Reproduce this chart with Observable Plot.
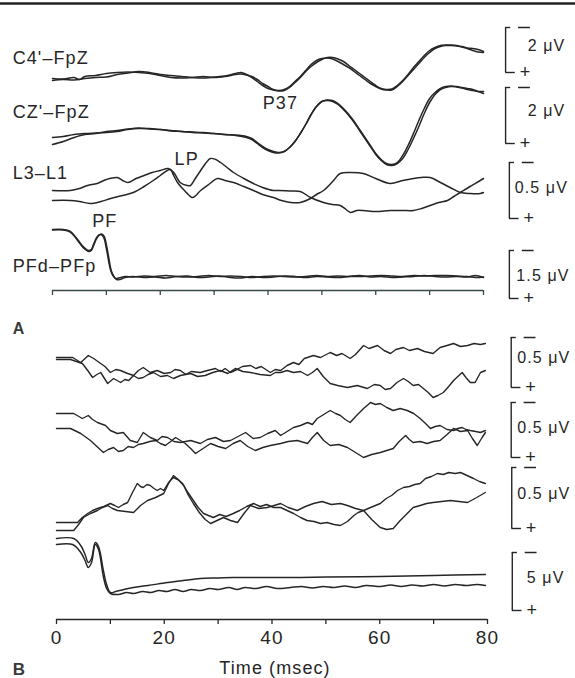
<!DOCTYPE html>
<html><head><meta charset="utf-8">
<script src="https://cdn.jsdelivr.net/npm/d3@7"></script>
<script src="https://cdn.jsdelivr.net/npm/@observablehq/plot@0.6"></script>
<style>
html,body{margin:0;padding:0;background:#fff;}
#chart svg text{letter-spacing:1.1px;}
</style></head><body><div id="chart"></div>
<script>
// ---------- DATA (time in msec, level in vertical display units; + polarity downward) ----------
const timeTicks = [0,10,20,30,40,50,60,70,80];
const timeLabels = [0,20,40,60,80];
const channelNames = ["C4'–FpZ","CZ'–FpZ","L3–L1","PFd–PFp"];
const peakNames = ["P37","LP","PF"];
const barLabels = ["2 μV","2 μV","0.5 μV","1.5 μV","0.5 μV","0.5 μV","0.5 μV","5 μV"];
const panelNames = ["A","B"];

// Panel A
const c4a = [[0,80],[2,79],[4,79.5],[6,78],[8,77],[10,76.5],[12,74],[14,72.5],[16,71],[18,72],[20,74],[22,75],[24,76],[26,77],[28,77.5],[30,76.5],[32,75.5],[34,73],[35,72],[36,74],[37,77],[38,81],[39,85],[40,88],[41,89.5],[42,90],[43,89],[44,86],[45,81],[46,76],[47,70],[48,64],[49,60],[50,58],[51,57.5],[52,58.5],[53,61],[54,64],[55,67],[56,71],[57,75],[58,79],[59,83],[60,86],[61,88.5],[62,89.5],[63,89.5],[64,86],[65,81],[66,75],[67,69],[68,63],[69,57],[70,52],[71,48],[72,46],[73,45],[74,45],[75,45.5],[76,46],[77,47.5],[78,48],[79,49],[80,51]];
const c4b = [[0,78],[2,78.5],[4,77],[5,79],[6,76],[8,75],[10,73],[12,72],[14,71.5],[16,72],[18,73],[20,75],[22,77],[24,77.5],[26,77],[28,76],[30,77],[32,76],[34,74],[35,73.5],[36,74.5],[37,76],[38,79],[39,83],[40,86],[41,89],[42,90.5],[43,90],[44,87],[45,82],[46,77],[47,71],[48,66],[49,62],[50,59],[51,57],[52,57],[53,58.5],[54,61],[55,65],[56,69],[57,73],[58,77],[59,81],[60,85],[61,88],[62,89],[63,88.5],[64,85],[65,80],[66,74],[67,67],[68,61],[69,55],[70,50],[71,47],[72,45],[73,44.5],[74,44.5],[75,45],[76,46.5],[77,48],[78,50],[79,51.5],[80,52]];
const cza = [[0,137],[2,136],[4,134],[6,133],[8,132.5],[10,132],[12,131],[14,129],[16,128],[18,128],[20,129],[22,130],[24,131],[26,131.5],[28,132],[30,133],[32,134],[34,134.5],[36,136],[37,138],[38,142],[39,146],[40,149],[41,151],[42,152],[43,151],[44,147],[45,141],[46,133],[47,124],[48,114],[49,106],[50,101],[51,99.5],[52,100],[53,103],[54,108],[55,114],[56,121],[57,129],[58,137],[59,145],[60,153],[61,159],[62,163],[63,164],[64,162],[65,155],[66,145],[67,133],[68,120],[69,108],[70,98],[71,92],[72,88],[73,86],[74,85.5],[75,86],[76,87],[77,88],[78,89],[79,91],[80,93]];
const czb = [[0,144],[2,141],[4,137],[6,134],[8,133],[10,131],[12,130],[14,128.5],[16,127.5],[18,128.5],[20,129],[22,130.5],[24,131],[26,132],[28,132.5],[30,133],[32,134],[34,135],[36,137],[37,139],[38,143],[39,147],[40,150],[41,152],[42,152.5],[43,151],[44,147],[45,141],[46,133],[47,124],[48,114],[49,106],[50,101],[51,100],[52,101],[53,104],[54,109],[55,115],[56,122],[57,130],[58,138],[59,146],[60,154],[61,160],[62,164],[63,165],[64,163],[65,158],[66,149],[67,138],[68,126],[69,113],[70,102],[71,94],[72,89],[73,87],[74,86],[75,86.5],[76,87.5],[77,89],[78,90],[79,91],[80,91]];
const l3a = [[0,190],[3.3,190],[5,188],[6.5,185],[8.3,183],[10,179],[12,177],[13,180],[14,182],[15.5,178],[17,175],[18.5,172],[20,170],[21.5,168],[22.5,172],[23.7,182],[25,185],[25.6,185],[26.5,178],[27.5,170],[28.4,163],[29.3,158],[30.3,159],[31.2,162],[32.4,167],[33.6,172],[35.5,178],[37.3,183],[39,187],[41,190],[42,190],[44,190.5],[46,191],[47.9,197],[50.3,202],[52,204],[53.4,205],[54.5,209],[55.3,212],[56.5,210],[57.7,210],[60,211],[62.7,210],[65,210],[67,210],[68.5,208],[70.1,205],[71.7,202],[73.3,200],[74.5,196],[75.7,192],[77.5,186],[79.4,180],[80,178]];
const l3b = [[0,200],[3.3,200],[5,201],[7,203],[9,201],[10.8,198],[13,195],[15,192],[17,186],[18.7,180],[20,175],[21.3,170],[21.9,169],[22.5,175],[23.2,182],[24.5,190],[26,197],[27.5,190],[29,184],[30.6,178],[32,180],[33.6,182],[35.5,186],[37.3,190],[39,194],[41,197],[42.5,200],[44.2,202],[46,202],[47.9,198],[49,194],[50.3,190],[52,181],[53.4,173],[55.5,172],[57.7,173],[60,178],[62.7,183],[65,180],[67,178],[68.5,177],[70.1,177],[72,182],[73.8,187],[75.7,192],[77.5,193],[79.4,193],[80,192]];
const pfa = [[0,229],[2,229],[3.3,231],[4.2,236],[4.8,240],[5.5,245],[6.1,248],[6.7,250],[7.2,249],[7.6,244],[8.1,238],[8.6,234.5],[9,234],[9.5,237],[10,248],[10.4,260],[10.8,270],[11.2,275],[11.7,278],[12.3,277.5],[13.5,276],[15,276.5],[17,275.5],[19,276],[21,275],[23,276],[25,276.5],[27,276],[29,275],[31,276],[33,275.5],[35,276],[37,277],[39,276],[41,275.5],[43,276],[45,276.5],[47,276],[49,275],[51,276],[53,275.5],[55,276],[57,276],[59,275.5],[61,275],[63,275.5],[65,276],[67,275],[69,275.5],[71,275],[73,275],[75,275.5],[77,276],[78.5,277],[80,276.5]];
const pfb = [[0,229.5],[2,229.5],[3.3,231.5],[4.2,236.5],[4.8,241],[5.5,246],[6.1,249],[6.7,251],[7.2,250],[7.6,245.5],[8.1,239],[8.6,235],[9.1,233.5],[9.6,236],[10.1,247],[10.5,259],[10.9,270],[11.4,276],[11.9,279],[12.5,279],[13.5,277],[15,276],[17,277],[19,276.5],[21,277.5],[23,276],[25,275.5],[27,277],[29,276.5],[31,275.5],[33,277],[35,277.5],[37,276],[39,277],[41,276.5],[43,275.5],[45,276],[47,277],[49,276],[51,276.5],[53,277],[55,276],[57,275],[59,276.5],[61,276],[63,277],[65,276.5],[67,276],[69,275],[71,276],[73,276.5],[75,276],[77,276.5],[78.5,275],[80,277]];

// Panel B
const b1a = [[0,357],[3,357],[4.5,362],[5.9,355],[6.9,358],[8.2,363],[9,366],[10,372],[11,369],[11.9,370],[13.2,373],[14.3,375],[15.2,370],[16.1,367],[17.4,372],[18.7,370],[20,373],[21.2,372],[22,369],[23,370],[24,374],[25,371],[26.7,372],[28,370],[29.5,368],[30.5,371],[31.3,368],[32.3,372],[33.5,369],[34.5,366],[36,365],[37,368],[38,366],[39.7,372],[40.6,369],[41.6,370],[42.8,365],[44,362],[45,364],[46,358],[47.7,355],[49,357],[50.8,352],[52,355],[53,353],[54.5,358],[55.5,354],[57,345],[58,348],[59.6,345],[60.8,350],[62,353],[63,349],[64.4,347],[65.5,350],[67,348],[68.3,351],[69.9,353],[71.2,347],[72.5,345],[73.7,343],[75,346],[76.3,345],[77.5,343],[78.7,344],[79.6,343]];
const b1b = [[0,359],[2.6,359],[4.8,363],[5.8,370],[6.7,377],[7.5,374],[8.2,372],[9.5,383],[10.6,378],[11.9,382],[12.7,379],[13.4,380],[14.3,375],[15.2,378],[16.1,377],[17,374],[18,372],[19.3,376],[20.6,375],[21.7,378],[23,375],[24.9,373],[26.2,376],[27.6,375],[29,372],[30.4,370],[31.8,373],[33.2,368],[34.6,371],[36,372],[37.8,374],[39.7,375],[40.6,372],[41.6,372],[42.8,370],[44,372],[45.3,371],[46.6,375],[47.5,372],[48.4,368],[49.5,376],[50.8,383],[52.2,385],[54,387],[55.8,385],[57.7,388],[59,384],[60.1,385],[61,389],[62,388],[63.2,382],[64.4,378],[65.3,381],[66.2,385],[67.2,384],[68.1,388],[69,392],[69.9,397],[70.8,395],[71.8,392],[72.8,386],[73.7,380],[74.5,376],[75.3,372],[76,377],[76.8,382],[77.7,382],[78.7,372],[79.6,370]];
const b2a = [[0,413],[3.2,413],[4.8,418],[5.9,415],[6.7,419],[7.6,422],[9.1,425],[10,430],[11.3,433],[12.4,432],[13.7,440],[15,442],[16.1,432],[17.4,437],[18.7,440],[19.6,436],[20.6,437],[21.8,441],[23,442],[24.9,440],[26.7,443],[28,439],[29.5,437],[31,441],[32.3,440],[33.7,436],[35.1,432],[36.5,438],[37.8,437],[39.2,433],[40.6,430],[41.6,435],[42.8,431],[44,427],[45.3,425],[46.6,422],[47.5,424],[48.4,418],[49.6,414],[50.8,410],[51.8,413],[52.7,415],[53.6,419],[54.5,422],[55.7,415],[57,408],[58.3,402],[59.2,404],[60.1,403],[61.3,407],[62.5,410],[63.8,408],[65.1,410],[66.3,413],[67.5,418],[68.5,423],[69.4,428],[70.3,426],[71.2,425],[72.5,429],[73.7,430],[74.5,428],[75.3,427],[76,429],[76.8,430],[77.8,431],[78.7,432],[79.6,430]];
const b2b = [[0,428],[2.6,428],[4.5,433],[6.3,440],[7.5,446],[8.7,452],[9.6,449],[10.6,447],[11.5,451],[12.4,450],[13.3,446],[14.3,447],[15.2,444],[16.1,443],[17.3,441],[18.4,440],[19.3,443],[20.2,445],[21.2,441],[22.1,437],[23,440],[23.9,443],[24.9,448],[25.8,453],[27.2,448],[28.6,443],[30,446],[31.4,448],[32.8,443],[34.1,440],[35.5,446],[36.9,450],[38.3,447],[39.7,445],[41.6,443],[43,441],[44.7,440],[46.6,443],[47.5,437],[48.4,432],[49.6,440],[50.8,445],[52.4,444],[54,447],[55.5,452],[57,457],[58.5,454],[60.1,452],[61.3,450],[62.5,448],[63.6,441],[64.8,435],[65.5,439],[66.2,442],[67.5,441],[68.8,443],[70,441],[71.2,440],[72.5,434],[73.7,428],[75,431],[76.3,430],[77.2,438],[78.1,445],[79,437],[79.6,432]];
const b3a = [[0,522],[3.9,522],[4.8,517],[5.8,513],[6.7,510],[7.6,508],[8.8,506],[10,503],[10.8,505],[11.5,507],[12.4,504],[13.2,502],[14.1,492],[15,483],[15.6,486],[16.1,487],[16.8,484],[17.4,485],[18.1,488],[18.7,490],[19.3,488],[19.9,490],[20.8,482],[21.7,477],[22.5,479],[23.4,483],[24.4,492],[25.4,500],[26.3,507],[27.3,513],[28.2,515],[29.1,517],[30.3,514],[31.5,516],[32.8,513],[34,510],[35.3,506],[36.6,503],[37.8,506],[39,504],[40.3,507],[41.6,507],[42.8,510],[44,513],[45.3,517],[46.5,520],[47.8,521],[49,523],[50.2,522],[51.5,524],[52.7,525],[54,521],[55.2,515],[56,512],[57,510],[58.3,507],[59.2,505],[60.1,503],[61.2,498],[62.2,495],[63.3,490],[64.4,487],[65.5,486],[66.5,484],[67.5,483],[68.5,478],[69.6,476],[70.7,473],[71.8,474],[72.8,472],[74,473],[75,472],[76.2,475],[77.4,478],[78.5,481],[79.6,483]];
const b3b = [[0,530],[3.2,530],[4.1,524],[5,517],[6.3,513],[7.6,510],[8.5,507],[9.5,505],[10.4,508],[11.3,510],[12.8,511],[14.3,512],[15.6,505],[16.9,500],[18.4,497],[19.9,493],[20.8,483],[21.7,475],[22.6,479],[23.6,485],[24.5,495],[25.4,503],[26.5,512],[27.6,519],[28.6,523],[29.8,520],[31,517],[32.3,520],[33.6,522],[34.8,513],[36,505],[37.5,508],[39.1,507],[40.4,505],[41.6,503],[43,507],[44.7,510],[46.2,506],[47.7,503],[49.3,501],[51,504],[52.7,503],[54,505],[55.5,508],[57,510],[58.5,519],[60.1,527],[61.3,529],[62.5,528],[63.8,520],[65.1,513],[66.2,507],[67.5,505],[68.7,503],[69.9,502],[71.5,501],[73.1,500],[74.7,501],[76.3,502],[78,497],[79.6,492]];
const b4a = [[0,538],[3.2,538],[4.5,545],[5.3,554],[5.9,562],[6.5,558],[7.2,542],[7.8,546],[8.7,570],[9.3,584],[10,592],[11,591],[12.5,589],[14.3,587],[17,585],[20.6,582],[23.5,580],[26.7,578],[30,577.5],[32.8,577],[37,577],[43.4,577],[50,576.5],[60.1,576],[70,575],[79.6,574]];
const b4b = [[0,544],[3,544],[4.5,552],[5.3,560],[5.9,567],[6.5,562],[7.2,544],[7.8,549],[8.7,576],[9.3,588],[10,593],[11.5,594],[13,592],[14.3,593],[16,591],[17.5,592],[19,590],[20.5,591],[22,589],[23.5,591],[25,589],[26.7,590],[28.5,588],[30,589],[32,587],[33.5,589],[35,587],[37,588],[39,586],[41,588],[43.4,587],[45.5,586],[47.5,587.5],[49.5,586],[51.5,587],[53.5,585.5],[55.5,587],[57.5,585],[60.1,586],[62,584.5],[64,586],[66,584.5],[68,585.5],[70,584],[72,585.5],[74,584],[76,585],[78,584],[79.6,585]];

// ---------- LAYOUT ----------
const W = 575, H = 678;
const dxB = 4; // panel B drawn slightly to the right
const ink = "#262626";
const rows = (list) => list.flatMap(([id, pts]) => pts.map(([t, v]) => ({id, t, v})));
const topRows = rows([["c4a",c4a],["c4b",c4b],["cza",cza],["czb",czb],["l3a",l3a],["l3b",l3b],["pfa",pfa],["pfb",pfb]]);
const botNoisy = rows([["b1a",b1a],["b1b",b1b],["b2a",b2a],["b2b",b2b],["b3a",b3a],["b3b",b3b]]);
const botPf = rows([["b4a",b4a],["b4b",b4b]]);

const channelLabelY = [58,112,173,266];
const chanLabels = channelNames.map((name, i) => ({name, x: -7.4, y: channelLabelY[i]}));
const peakPos = [[42.3,103],[24.9,159],[9.7,221]];
const peaks = peakNames.map((name, i) => ({name, x: peakPos[i][0], y: peakPos[i][1]}));

const barSpan = [[27,72],[87,143],[162,218],[250,298],[337,387],[402,457],[467,528],[552,610]];
const barLabelY = [45,110,187,275,357,427,493,577];
const barX = [84.1,84.1,84.8,84.8,84.4,84.4,84.5,84.6];
const barLabelX = [88.2,88.2,85.8,86.1,85.5,85.5,85.5,87.3];
const bars = barLabels.map((label, i) => ({label, x: barX[i], y1: barSpan[i][0], y2: barSpan[i][1], ly: barLabelY[i], lx: barLabelX[i], panel: i < 4 ? "A" : "B"}));
const barsA = bars.filter(d => d.panel === "A");
const barsB = bars.filter(d => d.panel === "B");

function barMarks(data, dx) {
  return [
    Plot.ruleX(data, {x: "x", y1: "y1", y2: "y2", stroke: ink, strokeWidth: 1.4, dx}),
    Plot.ruleY(data, {y: "y1", x1: "x", x2: d => d.x + 0.95, stroke: ink, strokeWidth: 1.4, dx}),
    Plot.ruleY(data, {y: "y1", x1: d => d.x + 2.4, x2: d => d.x + 4.6, stroke: ink, strokeWidth: 1.5, dx}),
    Plot.ruleY(data, {y: "y2", x1: "x", x2: d => d.x + 1.8, stroke: ink, strokeWidth: 1.4, dx}),
    Plot.text(data, {x: d => d.x + 3.7, y: "y2", text: () => "+", fontSize: 18, fill: ink, dx}),
    Plot.text(data, {x: "lx", y: "ly", text: "label", fontSize: 16, textAnchor: "start", fill: ink, dx})
  ];
}

const chart = Plot.plot({
  width: W, height: H,
  marginLeft: 52, marginRight: 92, marginTop: 0, marginBottom: 0,
  x: {domain: [0, 80], axis: null},
  y: {domain: [0, H], reverse: true, axis: null},
  style: {fontFamily: "'Liberation Sans', Arial, Helvetica, sans-serif", background: "#fff", color: ink},
  marks: [
    Plot.ruleY([3], {x1: -10, x2: 98, stroke: "#222", strokeWidth: 2.5}),
    // traces
    Plot.line(topRows, {x: "t", y: "v", z: "id", stroke: ink, strokeWidth: 1.5, curve: "catmull-rom"}),
    Plot.line(botNoisy, {x: "t", y: "v", z: "id", stroke: ink, strokeWidth: 1.4, curve: "linear", dx: dxB}),
    Plot.line(botPf, {x: "t", y: "v", z: "id", stroke: ink, strokeWidth: 1.5, curve: "catmull-rom", dx: dxB}),
    // time axes
    Plot.ruleY([290], {x1: 0, x2: 80, stroke: "#3a4848", strokeWidth: 1.5}),
    Plot.ruleX(timeTicks, {x: d => d, y1: 290, y2: 295, stroke: "#3a4848", strokeWidth: 1.3}),
    Plot.ruleY([619], {x1: 0, x2: 80, stroke: ink, strokeWidth: 1.5, dx: dxB}),
    Plot.ruleX(timeTicks, {x: d => d, y1: 619, y2: 624, stroke: ink, strokeWidth: 1.3, dx: dxB}),
    Plot.text(timeLabels, {x: d => d, y: 637, text: d => String(d), fontSize: 19, fill: ink, dx: dxB}),
    Plot.text(["Time (msec)"], {x: 40, y: 668, fontSize: 18, fill: ink, dx: dxB + 3}),
    // labels
    Plot.text(chanLabels, {x: "x", y: "y", text: "name", fontSize: 18, textAnchor: "start", fill: ink}),
    Plot.text(peaks, {x: "x", y: "y", text: "name", fontSize: 18, fill: ink}),
    Plot.text([panelNames[0]], {x: -7.4, y: 328, fontSize: 16, fontWeight: "bold", textAnchor: "start", fill: "#3a3a3a"}),
    Plot.text([panelNames[1]], {x: -7.4, y: 669, fontSize: 17, fontWeight: "bold", textAnchor: "start", fill: "#3a3a3a"}),
    // scale bars
    ...barMarks(barsA, 0),
    ...barMarks(barsB, dxB)
  ]
});
document.getElementById("chart").appendChild(chart);
</script></body></html>
